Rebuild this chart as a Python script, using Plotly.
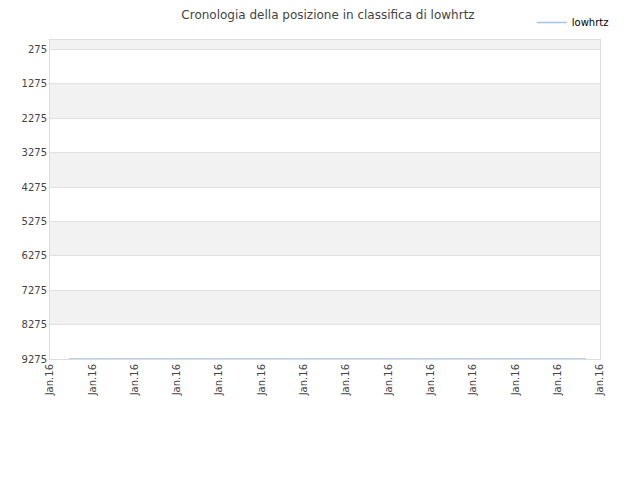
import plotly.graph_objects as go
import pandas as pd

# posizione in classifica (giornaliera)
dates = ["2016-01-%02d" % d for d in range(2, 27)]
ranks = [9275] * len(dates)

y_ticks = [275, 1275, 2275, 3275, 4275, 5275, 6275, 7275, 8275, 9275]
band_edges = [0] + y_ticks

# asse x: 14 etichette equidistanti su tutto l'intervallo
x_start = pd.Timestamp("2016-01-01 02:50")
x_end = pd.Timestamp("2016-01-26 15:35")
n_ticks = 14
step_ms = (x_end - x_start).total_seconds() * 1000 / (n_ticks - 1)

fig = go.Figure()
fig.add_trace(go.Scatter(
    x=dates, y=ranks, mode="lines", name="lowhrtz",
    line=dict(color="#9fc5e8", width=1.5),
))

# bande alternate
shapes = []
for i in range(len(band_edges) - 1):
    if i % 2 == 0:
        shapes.append(dict(
            type="rect", xref="paper", yref="y", x0=0, x1=1,
            y0=band_edges[i], y1=band_edges[i + 1],
            fillcolor="#f2f2f2", line=dict(width=0), layer="below",
        ))

# la pagina aggiunge 8px di margine al body
fig.update_layout(
    width=640, height=480,
    margin=dict(l=42, r=48, t=32, b=129, autoexpand=False),
    paper_bgcolor="white", plot_bgcolor="white",
    font=dict(family="DejaVu Sans", size=10, color="#444"),
    title=dict(text="Cronologia della posizione in classifica di lowhrtz",
               x=0.5, xanchor="center", y=0.985, yanchor="middle",
               yref="container",
               font=dict(size=12, color="#444")),
    showlegend=True,
    legend=dict(x=1.025, xanchor="right", y=1.015, yanchor="top",
                yref="container", font=dict(size=10, color="black"),
                bgcolor="rgba(0,0,0,0)"),
    shapes=shapes,
    xaxis=dict(
        type="date", range=[x_start, x_end],
        tick0=x_start, dtick=step_ms, tickformat="%b.%y",
        tickangle=-90, showgrid=False, ticks="", zeroline=False,
        showline=True, linecolor="#dddddd", mirror=True,
    ),
    yaxis=dict(
        range=[9275, 0], tickvals=y_ticks, ticks="",
        showgrid=True, gridcolor="#e0e0e0", zeroline=False,
        showline=True, linecolor="#dddddd", mirror=True,
    ),
)

fig.write_html("out.html")
